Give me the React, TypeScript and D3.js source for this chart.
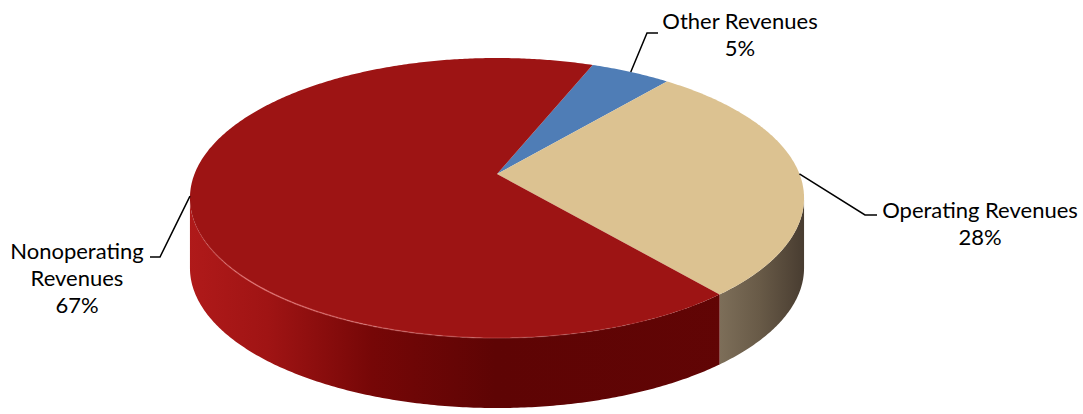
import React from 'react';
import * as d3 from 'd3';

const categories = ['Other Revenues', 'Operating Revenues', 'Nonoperating Revenues'];
const values = [5, 28, 67];
const labelLines = [
  ['Other Revenues', '5%'],
  ['Operating Revenues', '28%'],
  ['Nonoperating', 'Revenues', '67%'],
];
const topColors = ['#4f7db6', '#dcc291', '#9d1414'];
const sideStops = [
  [['0', '#3a5f8e'], ['1', '#2c4a70']],
  [['0', '#857660'], ['0.84', '#857660'], ['0.93', '#685a47'], ['1', '#493d31']],
  [['0', '#b01a1a'], ['0.13', '#a01414'], ['0.3', '#760707'], ['0.5', '#5e0404'], ['1', '#620505']],
];
// label layout: text center x, first baseline y, elbow point, elbow end
const labelPos = [
  { x: 740, y: 29, elbow: [647, 33], end: [658, 33] },
  { x: 980, y: 218, elbow: [865, 215], end: [877, 215] },
  { x: 77, y: 259, elbow: [160, 257], end: [150, 257] },
];

const W = 1083, H = 414;
const X0 = 497, Y0 = 174; // projected pie center
const A = 302.5, B = 135.9, K = 0.1715; // perspective params
const DEPTH = 70;
const START = (21.5 * Math.PI) / 180;

function proj(t: number, dy = 0): [number, number] {
  const u = Math.sin(t), v = -Math.cos(t);
  const w = 1 - K * v;
  return [X0 + (A * u) / w, Y0 + (B * v) / w + dy];
}

function arcPts(a0: number, a1: number, dy = 0): [number, number][] {
  const n = Math.max(2, Math.ceil(Math.abs(a1 - a0) / 0.01));
  const pts: [number, number][] = [];
  for (let i = 0; i <= n; i++) pts.push(proj(a0 + ((a1 - a0) * i) / n, dy));
  return pts;
}

export default function App() {
  const pie = d3.pie<number>().sort(null).startAngle(START).endAngle(START + 2 * Math.PI);
  const arcs = pie(values);
  const line = d3.line();
  const visA = Math.PI / 2 + Math.asin(K);
  const visB = 1.5 * Math.PI - Math.asin(K);

  const sides: { d: string; i: number }[] = [];
  arcs.forEach((a, i) => {
    for (const off of [0, 2 * Math.PI]) {
      const s = Math.max(a.startAngle, visA + off);
      const e = Math.min(a.endAngle, visB + off);
      if (e > s) {
        const top = arcPts(s, e);
        const bot = arcPts(e, s, DEPTH);
        sides.push({ d: line([...top, ...bot])! + 'Z', i });
      }
    }
  });

  const tops = arcs.map((a, i) => {
    const pts = [[X0, Y0] as [number, number], ...arcPts(a.startAngle, a.endAngle)];
    return line(pts)! + 'Z';
  });

  const redArc = arcs[2];
  const rim = line(arcPts(redArc.startAngle, visB))!;

  return (
    <svg width={W} height={H} style={{ position: 'absolute', left: 0, top: 0 }}>
      <defs>
        {sideStops.map((stops, i) => (
          <linearGradient key={i} id={`side${i}`} gradientUnits="userSpaceOnUse" x1={X0 - 310} x2={X0 + 306} y1={0} y2={0}>
            {stops.map(([o, c], j) => (
              <stop key={j} offset={o} stopColor={c} />
            ))}
          </linearGradient>
        ))}
        <linearGradient id="rimGrad" gradientUnits="userSpaceOnUse" x1={190} x2={700} y1={0} y2={0}>
          <stop offset="0" stopColor="#ff9a9a" stopOpacity={0} />
          <stop offset="0.12" stopColor="#ff9a9a" stopOpacity={0.55} />
          <stop offset="0.45" stopColor="#ff9a9a" stopOpacity={0.3} />
          <stop offset="1" stopColor="#ff9a9a" stopOpacity={0} />
        </linearGradient>
      </defs>
      <rect width={W} height={H} fill="#fff" />
      {sides.map((s, k) => (
        <path key={k} d={s.d} fill={`url(#side${s.i})`} />
      ))}
      {tops.map((d, i) => (
        <path key={i} d={d} fill={topColors[i]} />
      ))}
      <path d={rim} fill="none" stroke="url(#rimGrad)" strokeWidth={1.5} />
      {arcs.map((a, i) => {
        const mid = (a.startAngle + a.endAngle) / 2;
        const p = proj(mid);
        const lp = labelPos[i];
        return (
          <g key={i}>
            <polyline
              points={`${p[0]},${p[1]} ${lp.elbow[0]},${lp.elbow[1]} ${lp.end[0]},${lp.end[1]}`}
              fill="none"
              stroke="#000"
              strokeWidth={1.5}
            />
            <text
              x={lp.x}
              y={lp.y}
              textAnchor="middle"
              fontFamily="Lato, sans-serif"
              fontSize={22}
              fill="#000"
            >
              {labelLines[i].map((t, j) => (
                <tspan key={j} x={lp.x} dy={j === 0 ? 0 : 27}>
                  {t}
                </tspan>
              ))}
            </text>
          </g>
        );
      })}
    </svg>
  );
}
